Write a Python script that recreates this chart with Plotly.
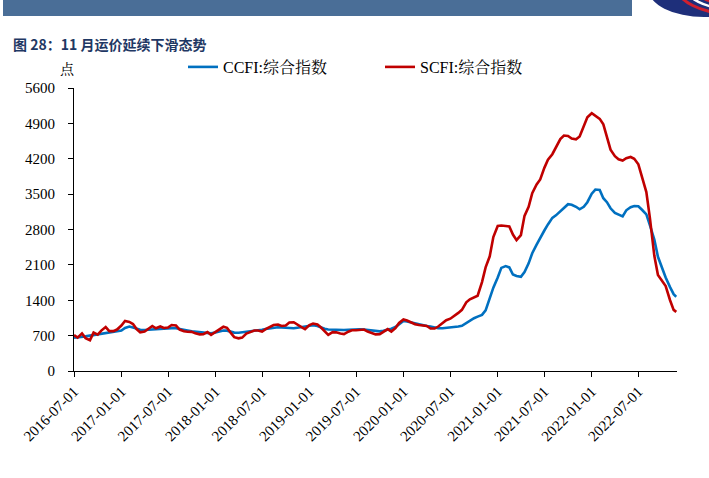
import plotly.graph_objects as go

# ---------------- data ----------------
dates = [
    "2016-07-01", "2016-07-15", "2016-08-01", "2016-08-15", "2016-09-01", "2016-09-15",
    "2016-10-01", "2016-10-15", "2016-11-01", "2016-11-15", "2016-12-01", "2016-12-15",
    "2017-01-01", "2017-01-15", "2017-02-01", "2017-02-15", "2017-03-01", "2017-03-15",
    "2017-04-01", "2017-04-15", "2017-05-01", "2017-05-15", "2017-06-01", "2017-06-15",
    "2017-07-01", "2017-07-15", "2017-08-01", "2017-08-15", "2017-09-01", "2017-09-15",
    "2017-10-01", "2017-10-15", "2017-11-01", "2017-11-15", "2017-12-01", "2017-12-15",
    "2018-01-01", "2018-01-15", "2018-02-01", "2018-02-15", "2018-03-01", "2018-03-15",
    "2018-04-01", "2018-04-15", "2018-05-01", "2018-05-15", "2018-06-01", "2018-06-15",
    "2018-07-01", "2018-07-15", "2018-08-01", "2018-08-15", "2018-09-01", "2018-09-15",
    "2018-10-01", "2018-10-15", "2018-11-01", "2018-11-15", "2018-12-01", "2018-12-15",
    "2019-01-01", "2019-01-15", "2019-02-01", "2019-02-15", "2019-03-01", "2019-03-15",
    "2019-04-01", "2019-04-15", "2019-05-01", "2019-05-15", "2019-06-01", "2019-06-15",
    "2019-07-01", "2019-07-15", "2019-08-01", "2019-08-15", "2019-09-01", "2019-09-15",
    "2019-10-01", "2019-10-15", "2019-11-01", "2019-11-15", "2019-12-01", "2019-12-15",
    "2020-01-01", "2020-01-15", "2020-02-01", "2020-02-15", "2020-03-01", "2020-03-15",
    "2020-04-01", "2020-04-15", "2020-05-01", "2020-05-15", "2020-06-01", "2020-06-15",
    "2020-07-01", "2020-07-15", "2020-08-01", "2020-08-15", "2020-09-01", "2020-09-15",
    "2020-10-01", "2020-10-15", "2020-11-01", "2020-11-15", "2020-12-01", "2020-12-15",
    "2021-01-01", "2021-01-15", "2021-02-01", "2021-02-15", "2021-03-01", "2021-03-15",
    "2021-04-01", "2021-04-15", "2021-05-01", "2021-05-15", "2021-06-01", "2021-06-15",
    "2021-07-01", "2021-07-15", "2021-08-01", "2021-08-15", "2021-09-01", "2021-09-15",
    "2021-10-01", "2021-10-15", "2021-11-01", "2021-11-15", "2021-12-01", "2021-12-15",
    "2022-01-01", "2022-01-15", "2022-02-01", "2022-02-15", "2022-03-01", "2022-03-15",
    "2022-04-01", "2022-04-15", "2022-05-01", "2022-05-15", "2022-06-01", "2022-06-15",
    "2022-07-01", "2022-07-15", "2022-08-01", "2022-08-15", "2022-09-01", "2022-09-15",
    "2022-10-01", "2022-10-15", "2022-11-01", "2022-11-15", "2022-11-25",
]

ccfi = [
    660, 665, 675, 685, 700, 712, 725, 740, 750, 770, 780, 790,
    800, 850, 880, 860, 830, 815, 810, 815, 825, 835, 844, 845,
    845, 848, 845, 835, 815, 800, 785, 775, 765, 755, 748, 745,
    760, 785, 800, 798, 780, 760, 758, 765, 778, 785, 795, 805,
    815, 830, 845, 860, 865, 860, 850, 845, 845, 855, 870, 885,
    900, 905, 890, 860, 835, 822, 815, 812, 810, 810, 815, 820,
    825, 825, 820, 810, 800, 790, 785, 795, 815, 835, 870, 930,
    990, 980, 960, 940, 915, 900, 890, 880, 860, 845, 845, 850,
    860, 870, 880, 895, 955, 1000, 1045, 1075, 1110, 1200, 1440, 1650,
    1850, 2040, 2075, 2050, 1910, 1880, 1865, 1960, 2130, 2330, 2500, 2640,
    2780, 2900, 3030, 3080, 3150, 3225, 3300, 3290, 3250, 3200, 3250, 3340,
    3510, 3590, 3580, 3420, 3340, 3220, 3130, 3100, 3060, 3180, 3240, 3265,
    3260, 3190, 3100, 2880, 2600, 2260, 2020, 1850, 1660, 1520, 1470,
]

scfi = [
    712, 660, 745, 650, 610, 760, 720, 800, 870, 790, 790, 820,
    900, 990, 970, 930, 830, 765, 780, 840, 890, 845, 880, 850,
    860, 910, 900, 820, 785, 778, 775, 745, 725, 730, 770, 715,
    765, 820, 875, 855, 760, 670, 646, 660, 740, 770, 800, 800,
    780, 830, 870, 910, 920, 890, 900, 960, 965, 915, 870, 830,
    910, 940, 920, 860, 790, 715, 770, 765, 740, 730, 778, 805,
    805, 810, 820, 780, 755, 725, 730, 780, 830, 780, 850, 950,
    1020, 1000, 950, 925, 910, 900, 890, 840, 840, 880, 950, 1005,
    1035, 1080, 1150, 1210, 1360, 1420, 1460, 1490, 1760, 2050, 2270, 2650,
    2870, 2880, 2870, 2860, 2700, 2590, 2690, 3070, 3250, 3520, 3690, 3790,
    4020, 4180, 4290, 4420, 4590, 4660, 4650, 4600, 4585, 4640, 4850, 5020,
    5100, 5050, 4990, 4880, 4620, 4380, 4250, 4190, 4165, 4210, 4235, 4200,
    4090, 3850, 3540, 3020, 2280, 1900, 1790, 1680, 1400, 1210, 1170,
]

tick_dates = [
    "2016-07-01", "2017-01-01", "2017-07-01", "2018-01-01", "2018-07-01",
    "2019-01-01", "2019-07-01", "2020-01-01", "2020-07-01", "2021-01-01",
    "2021-07-01", "2022-01-01", "2022-07-01",
]
y_ticks = [0, 700, 1400, 2100, 2800, 3500, 4200, 4900, 5600]

series_names = ["CCFI:综合指数", "SCFI:综合指数"]
series_colors = ["#0070C0", "#C00000"]

title_text = "图 28：11 月运价延续下滑态势"
unit_text = "点"

# ---------------- layout geometry (pixels) ----------------
W, H = 709, 478
L, R, T, B = 74, 677, 88, 371


def px(x):
    return (x - L) / (R - L)


def py(y):
    return (B - y) / (B - T)


serif = "Liberation Serif"
cjk_serif = "Liberation Serif, Noto Serif CJK SC, Noto Sans CJK SC"

fig = go.Figure()
fig.add_trace(go.Scatter(x=dates, y=ccfi, mode="lines", name=series_names[0],
                         line=dict(color=series_colors[0], width=2.6)))
fig.add_trace(go.Scatter(x=dates, y=scfi, mode="lines", name=series_names[1],
                         line=dict(color=series_colors[1], width=2.6)))

fig.update_layout(
    width=W, height=H,
    margin=dict(l=L, r=W - R, t=T, b=H - B, pad=0, autoexpand=False),
    paper_bgcolor="white", plot_bgcolor="white",
    font=dict(family=serif, size=14, color="black"),
    showlegend=True,
    legend=dict(orientation="h", x=px(183), y=py(50), xanchor="left", yanchor="top",
                font=dict(family=cjk_serif, size=16, color="black"),
                entrywidth=152, entrywidthmode="pixels", itemwidth=30,
                bgcolor="rgba(0,0,0,0)", tracegroupgap=0),
    xaxis=dict(
        type="date", range=["2016-07-01", "2022-11-28"], automargin=False,
        tickmode="array", tickvals=tick_dates, ticktext=tick_dates,
        tickangle=-45, tickfont=dict(family=serif, size=15, color="black"),
        ticks="outside", ticklen=5, tickcolor="black", tickwidth=1,
        showline=True, linecolor="black", linewidth=1,
        showgrid=False, zeroline=False,
    ),
    yaxis=dict(
        range=[0, 5600], tickmode="array", tickvals=y_ticks, automargin=False,
        tickfont=dict(family=serif, size=15, color="black"),
        ticks="outside", ticklen=5, tickcolor="black", tickwidth=1,
        ticklabelstandoff=10,
        showline=True, linecolor="black", linewidth=1,
        showgrid=False, zeroline=False,
    ),
)

shapes = [
    # header band
    dict(type="rect", xref="paper", yref="paper", x0=px(3), x1=px(632), y0=py(16), y1=py(0),
         fillcolor="#4A6E97", line=dict(width=0), layer="above"),
    # logo (partial, clipped at the top edge)
    dict(type="circle", xref="paper", yref="paper", x0=px(648), x1=px(760), y0=py(17), y1=py(-40),
         fillcolor="#1E2F7A", line=dict(width=0), layer="above"),
    dict(type="circle", xref="paper", yref="paper", x0=px(676), x1=px(790), y0=py(14), y1=py(-44),
         fillcolor="rgba(0,0,0,0)", line=dict(color="#D0202E", width=3), layer="above"),
    dict(type="circle", xref="paper", yref="paper", x0=px(682), x1=px(794), y0=py(10), y1=py(-46),
         fillcolor="rgba(0,0,0,0)", line=dict(color="white", width=2.5), layer="above"),
    dict(type="circle", xref="paper", yref="paper", x0=px(687), x1=px(798), y0=py(6), y1=py(-48),
         fillcolor="rgba(0,0,0,0)", line=dict(color="#D0202E", width=3), layer="above"),
]
fig.update_layout(shapes=shapes)

fig.add_annotation(text="<b>" + title_text + "</b>", xref="paper", yref="paper",
                   x=px(11), y=py(44), xanchor="left", yanchor="middle", showarrow=False,
                   font=dict(family="Noto Sans CJK SC, Liberation Sans, sans-serif", size=14,
                             color="#1F3864"))
fig.add_annotation(text=unit_text, xref="paper", yref="paper",
                   x=px(67), y=py(68), xanchor="center", yanchor="middle", showarrow=False,
                   font=dict(family="Noto Serif CJK SC, Noto Sans CJK SC, serif", size=14,
                             color="black"))

fig.write_html("out.html", config={"displayModeBar": False},
               post_script="document.body.style.margin='0';document.body.style.overflow='hidden';")
